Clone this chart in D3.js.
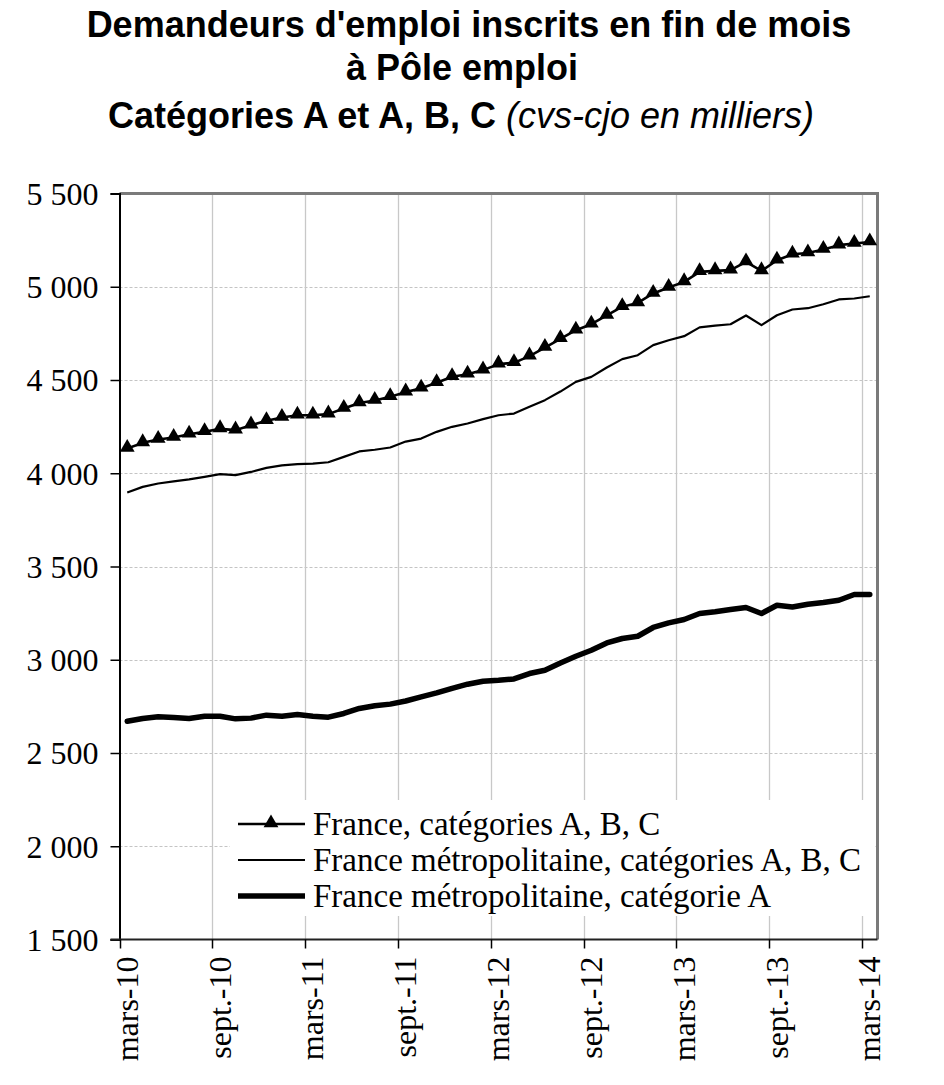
<!DOCTYPE html>
<html>
<head>
<meta charset="utf-8">
<script src="https://cdn.jsdelivr.net/npm/d3@7"></script>
<style>
  html, body { margin: 0; padding: 0; background: #fff; }
  svg { display: block; }
</style>
</head>
<body>
<svg id="chart" width="944" height="1085"></svg>
<script>
// ---- Data ----
const months = [
  "mars-10","avr.-10","mai-10","juin-10","juil.-10","août-10","sept.-10","oct.-10","nov.-10","déc.-10","janv.-11","févr.-11",
  "mars-11","avr.-11","mai-11","juin-11","juil.-11","août-11","sept.-11","oct.-11","nov.-11","déc.-11","janv.-12","févr.-12",
  "mars-12","avr.-12","mai-12","juin-12","juil.-12","août-12","sept.-12","oct.-12","nov.-12","déc.-12","janv.-13","févr.-13",
  "mars-13","avr.-13","mai-13","juin-13","juil.-13","août-13","sept.-13","oct.-13","nov.-13","déc.-13","janv.-14","févr.-14",
  "mars-14"
];
const tickMonths = ["mars-10","sept.-10","mars-11","sept.-11","mars-12","sept.-12","mars-13","sept.-13","mars-14"];

const franceABC = [
  4133,4163,4181,4192,4209,4222,4238,4231,4258,4281,4299,4311,
  4311,4317,4347,4377,4390,4410,4435,4456,4485,4517,4531,4553,
  4585,4592,4628,4674,4721,4767,4799,4846,4893,4913,4964,4996,
  5026,5080,5085,5089,5133,5085,5142,5174,5181,5200,5223,5232,
  5240
];
const metroABC = [
  3897,3927,3945,3956,3967,3981,3995,3990,4007,4029,4042,4049,
  4052,4059,4088,4117,4126,4138,4170,4186,4222,4249,4267,4290,
  4311,4320,4356,4392,4438,4490,4517,4567,4612,4633,4687,4713,
  4735,4782,4792,4799,4846,4794,4847,4878,4885,4906,4932,4937,
  4949
];
const metroA = [
  2670,2685,2694,2690,2685,2697,2697,2683,2687,2703,2697,2706,
  2697,2692,2712,2739,2753,2762,2779,2801,2822,2847,2869,2885,
  2890,2897,2926,2944,2983,3019,3051,3090,3114,3126,3173,3198,
  3216,3248,3257,3269,3280,3248,3292,3283,3298,3307,3319,3350,
  3350
];
const yTicks = [1500,2000,2500,3000,3500,4000,4500,5000,5500];
const yTickLabels = ["1 500","2 000","2 500","3 000","3 500","4 000","4 500","5 000","5 500"];
const seriesNames = [
  "France, catégories A, B, C",
  "France métropolitaine, catégories A, B, C",
  "France métropolitaine, catégorie A"
];
const titleLines = ["Demandeurs d'emploi inscrits en fin de mois", "à Pôle emploi"];
const titleLine3Bold = "Catégories A et A, B, C ";
const titleLine3Italic = "(cvs-cjo en milliers)";

// ---- Layout ----
const L = 119.5, R = 877.5, T = 193.5, B = 939.5;
const serif = "'Liberation Serif','Times New Roman',Times,serif";
const sans = "'Liberation Sans',Arial,Helvetica,sans-serif";

const svg = d3.select("#chart");

const x = d3.scaleBand().domain(months).range([L, R]).padding(0);
const bw = x.bandwidth();
const cx = m => x(m) + bw / 2;
const y = d3.scaleLinear().domain([1500, 5500]).range([B, T]);

// Title
const title = svg.append("g").attr("font-family", sans).attr("font-weight", "bold")
  .attr("font-size", 36).attr("text-anchor", "middle").attr("fill", "#000");
title.append("text").attr("x", 469).attr("y", 37).text(titleLines[0]);
title.append("text").attr("x", 462).attr("y", 80).text(titleLines[1]);
const t3 = title.append("text").attr("x", 461).attr("y", 128);
t3.append("tspan").text(titleLine3Bold);
t3.append("tspan").attr("font-weight", "normal").attr("font-style", "italic").text(titleLine3Italic);

// Horizontal gridlines (dashed)
svg.append("g").selectAll("line").data(yTicks.slice(1, -1)).join("line")
  .attr("x1", L).attr("x2", R)
  .attr("y1", d => Math.round(y(d)) + 0.5).attr("y2", d => Math.round(y(d)) + 0.5)
  .attr("stroke", "#c4c4c4").attr("stroke-width", 1).attr("stroke-dasharray", "3,2");

// Vertical gridlines (solid) at boundaries of tick months
svg.append("g").selectAll("line").data(tickMonths.slice(1)).join("line")
  .attr("x1", d => Math.round(x(d)) + 0.5).attr("x2", d => Math.round(x(d)) + 0.5)
  .attr("y1", T).attr("y2", B)
  .attr("stroke", "#c8c8c8").attr("stroke-width", 1.3);

// Frame top/right (gray)
svg.append("path")
  .attr("d", `M${L},${T}H${R}V${B}`)
  .attr("fill", "none").attr("stroke", "#7a7a7a").attr("stroke-width", 3);

// Y axis
const yAxis = svg.append("g").attr("transform", `translate(${L},0)`)
  .call(d3.axisLeft(y).tickValues(yTicks).tickSize(9).tickPadding(12)
    .tickFormat((d, i) => yTickLabels[i]));
yAxis.select(".domain").attr("stroke", "#000").attr("stroke-width", 2);
yAxis.selectAll(".tick line").attr("stroke", "#000").attr("stroke-width", 1.5);
yAxis.selectAll(".tick text").attr("font-family", serif).attr("font-size", 32).attr("fill", "#000")
  .attr("dy", "0.34em");

// X axis: ticks at band boundaries, labels at band centres
const xg = svg.append("g");
xg.append("line").attr("x1", L - 9).attr("x2", R).attr("y1", B).attr("y2", B)
  .attr("stroke", "#222").attr("stroke-width", 2);
xg.selectAll("line.tk").data(tickMonths).join("line").attr("class", "tk")
  .attr("x1", d => Math.round(x(d)) + 0.5).attr("x2", d => Math.round(x(d)) + 0.5)
  .attr("y1", B).attr("y2", B + 9)
  .attr("stroke", "#000").attr("stroke-width", 1.5);
xg.selectAll("text").data(tickMonths).join("text")
  .attr("transform", d => `translate(${cx(d)},${B + 17}) rotate(-90)`)
  .attr("text-anchor", "end").attr("dy", "0.33em")
  .attr("font-family", serif).attr("font-size", 32).attr("fill", "#000")
  .text(d => d);

// Lines
const line = d3.line().x((d, i) => cx(months[i])).y(d => y(d));
svg.append("path").datum(metroA).attr("d", line)
  .attr("fill", "none").attr("stroke", "#000").attr("stroke-width", 5.5)
  .attr("stroke-linejoin", "round").attr("stroke-linecap", "round");
svg.append("path").datum(metroABC).attr("d", line)
  .attr("fill", "none").attr("stroke", "#000").attr("stroke-width", 2.2)
  .attr("stroke-linejoin", "round");
svg.append("path").datum(franceABC).attr("d", line)
  .attr("fill", "none").attr("stroke", "#000").attr("stroke-width", 2.6)
  .attr("stroke-linejoin", "round");

const tri = d3.symbol().type(d3.symbolTriangle).size(95);
svg.append("g").selectAll("path").data(franceABC).join("path")
  .attr("transform", (d, i) => `translate(${cx(months[i])},${y(d) - 1})`)
  .attr("d", tri).attr("fill", "#000");

// Legend
const lg = svg.append("g");
lg.append("rect").attr("x", 230).attr("y", 800).attr("width", R - 232).attr("height", 116)
  .attr("fill", "#fff");
const rows = [824, 860, 896];
const widths = [2.6, 2.2, 5.5];
seriesNames.forEach((name, i) => {
  lg.append("line").attr("x1", 238).attr("x2", 305).attr("y1", rows[i]).attr("y2", rows[i])
    .attr("stroke", "#000").attr("stroke-width", widths[i]);
  if (i === 0) {
    lg.append("path").attr("transform", `translate(271,${rows[i] - 1})`).attr("d", tri).attr("fill", "#000");
  }
  lg.append("text").attr("x", 313).attr("y", rows[i]).attr("dy", "0.33em")
    .attr("font-family", serif).attr("font-size", 33).attr("fill", "#000").text(name);
});
</script>
</body>
</html>
